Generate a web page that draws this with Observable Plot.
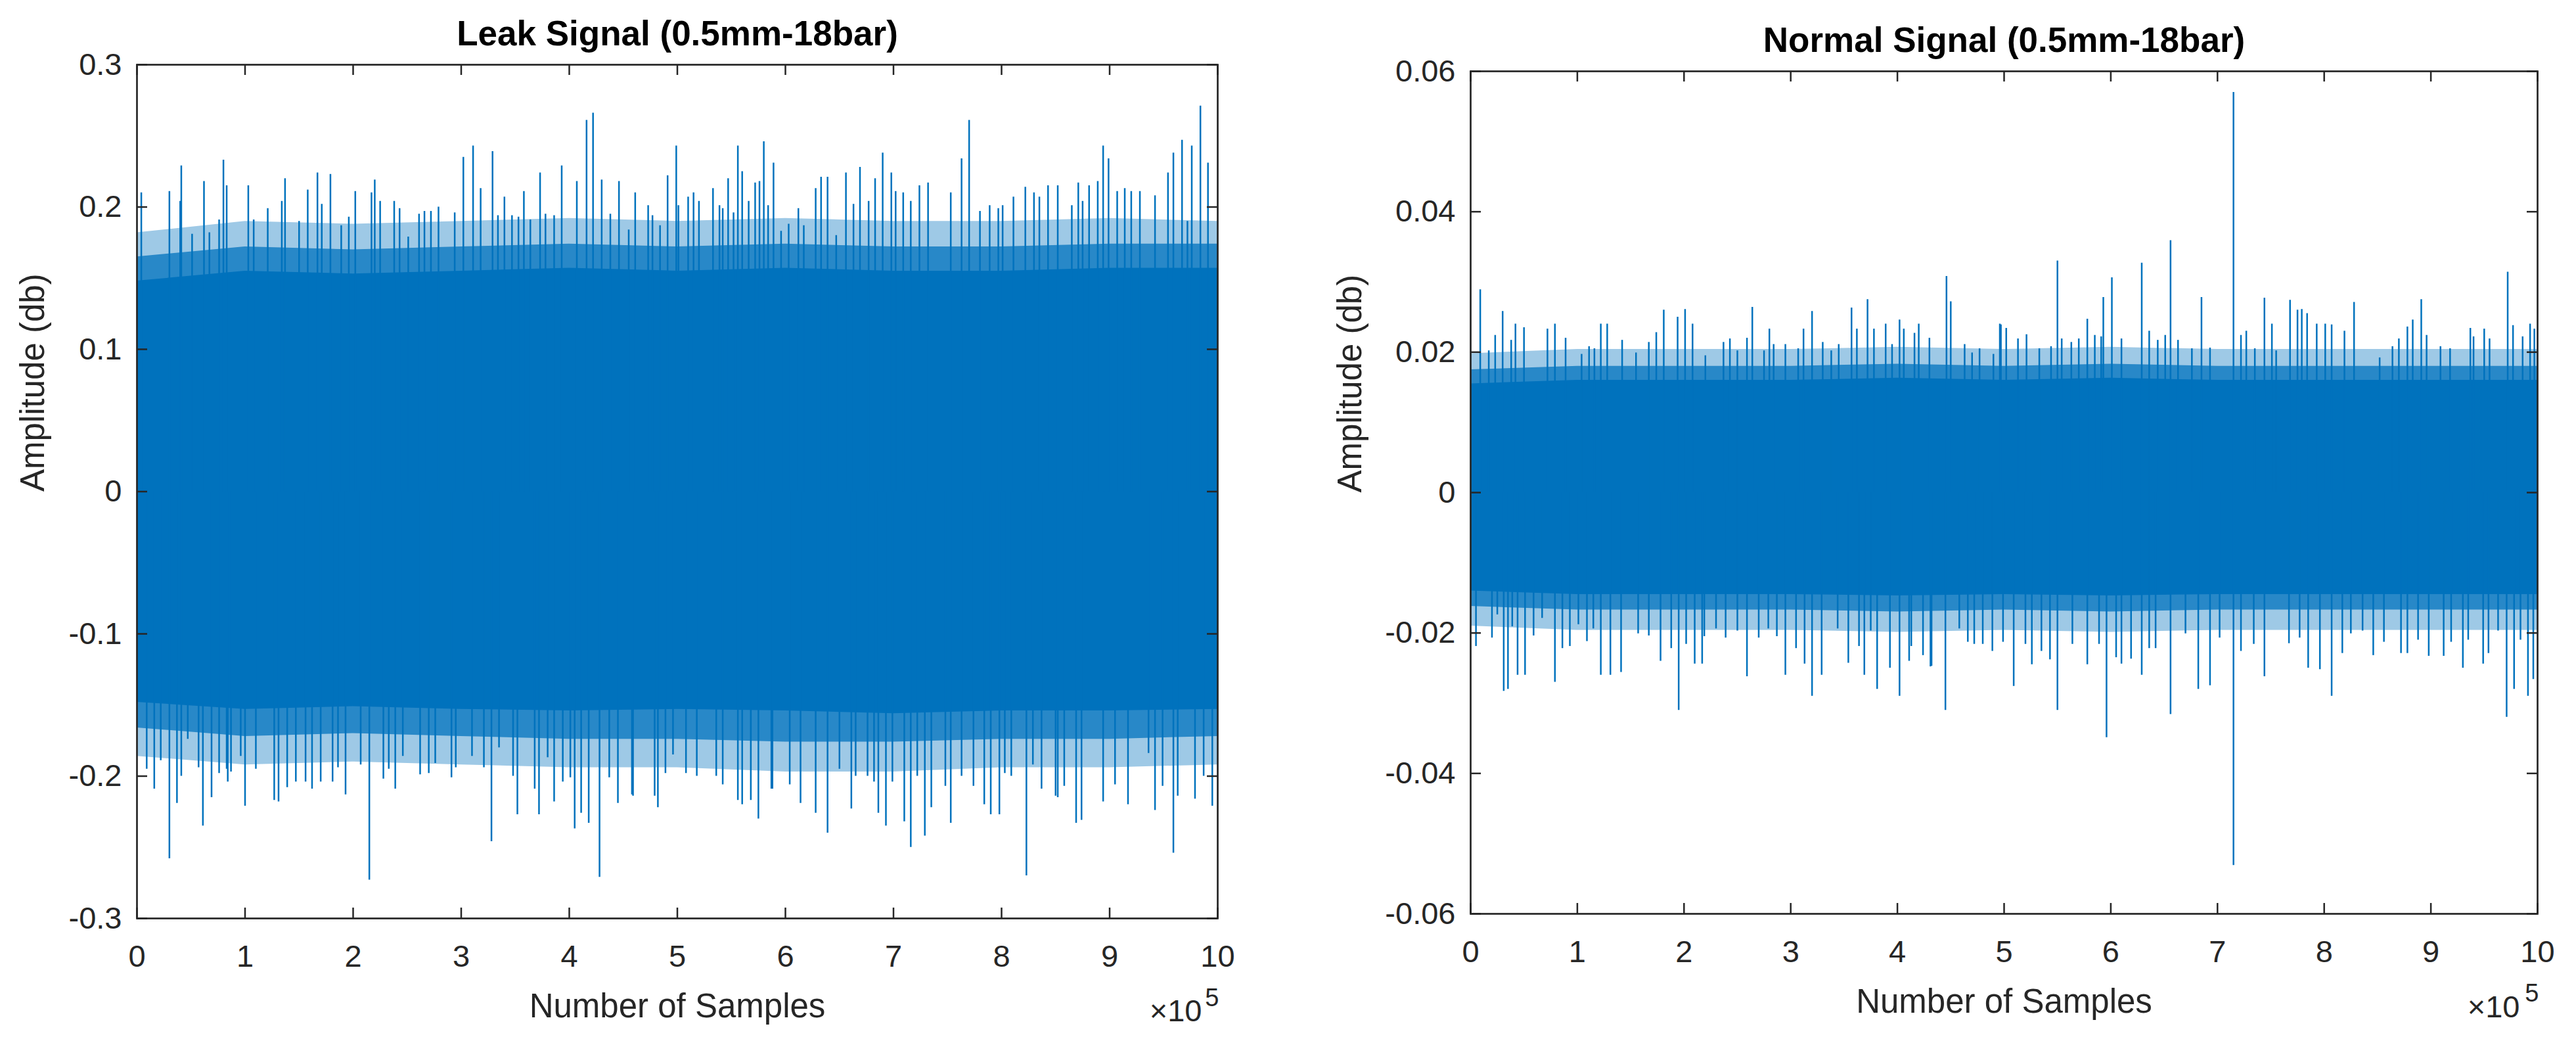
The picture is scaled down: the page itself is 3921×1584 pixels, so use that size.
<!DOCTYPE html>
<html>
<head>
<meta charset="utf-8">
<script src="https://cdn.jsdelivr.net/npm/d3@7"></script>
<script src="https://cdn.jsdelivr.net/npm/@observablehq/plot@0.6"></script>
<style>
  html, body { margin: 0; padding: 0; background: #ffffff; }
  #wrap { position: relative; width: 3921px; height: 1584px; overflow: hidden; }
  #left, #right { position: absolute; top: 0; }
  #left { left: 0; }
  #right { left: 1960px; }
</style>
</head>
<body>
<div id="wrap"><div id="left"></div><div id="right"></div></div>
<script>
// ---------------- DATA (x in units of 10^5 samples) ----------------
const xTicks = [0, 1, 2, 3, 4, 5, 6, 7, 8, 9, 10];
const leakYTicks = [-0.3, -0.2, -0.1, 0, 0.1, 0.2, 0.3];
const normalYTicks = [-0.06, -0.04, -0.02, 0, 0.02, 0.04, 0.06];

const leakTitle = "Leak Signal (0.5mm-18bar)";
const normalTitle = "Normal Signal (0.5mm-18bar)";
const xLabel = "Number of Samples";
const yLabel = "Amplitude (db)";

// envelope of the dense signal, read at every 1e5 samples:
// solid core, densely filled inner fringe, sparse outer fringe
const binX = [0, 1, 2, 3, 4, 5, 6, 7, 8, 9, 10];
const leakCoreHi   = [0.148, 0.155, 0.153, 0.155, 0.157, 0.155, 0.157, 0.155, 0.155, 0.157, 0.157];
const leakInnerHi  = [0.165, 0.172, 0.170, 0.172, 0.174, 0.172, 0.174, 0.172, 0.172, 0.174, 0.174];
const leakOuterHi  = [0.182, 0.190, 0.188, 0.190, 0.192, 0.190, 0.192, 0.190, 0.190, 0.192, 0.190];
const leakCoreLo   = [-0.148, -0.153, -0.151, -0.153, -0.154, -0.153, -0.154, -0.156, -0.154, -0.154, -0.153];
const leakInnerLo  = [-0.166, -0.172, -0.170, -0.172, -0.174, -0.174, -0.176, -0.176, -0.174, -0.174, -0.172];
const leakOuterLo  = [-0.186, -0.192, -0.190, -0.192, -0.194, -0.194, -0.197, -0.197, -0.194, -0.194, -0.192];

const normalCoreHi  = [0.0155, 0.0160, 0.0160, 0.0160, 0.0163, 0.0160, 0.0163, 0.0160, 0.0160, 0.0160, 0.0160];
const normalInnerHi = [0.0175, 0.0180, 0.0180, 0.0180, 0.0183, 0.0180, 0.0183, 0.0180, 0.0180, 0.0180, 0.0180];
const normalOuterHi = [0.0198, 0.0204, 0.0204, 0.0204, 0.0207, 0.0204, 0.0207, 0.0204, 0.0204, 0.0204, 0.0204];
const normalCoreLo  = [-0.0140, -0.0145, -0.0145, -0.0145, -0.0147, -0.0145, -0.0147, -0.0145, -0.0145, -0.0145, -0.0145];
const normalInnerLo = [-0.0162, -0.0167, -0.0167, -0.0167, -0.0170, -0.0167, -0.0170, -0.0167, -0.0167, -0.0167, -0.0167];
const normalOuterLo = [-0.0190, -0.0196, -0.0196, -0.0196, -0.0199, -0.0196, -0.0199, -0.0196, -0.0196, -0.0196, -0.0196];

// individual spikes [x (1e5 samples), amplitude]
const leakUpperPeaks = [
  [0.04,0.210],[0.30,0.211],[0.40,0.204],[0.41,0.229],[0.51,0.181],[0.62,0.218],[0.67,0.182],[0.76,0.191],[0.80,0.233],[0.83,0.215],
  [1.03,0.215],[1.08,0.191],[1.21,0.199],[1.34,0.204],[1.37,0.220],[1.50,0.190],[1.58,0.212],[1.67,0.224],[1.71,0.202],[1.79,0.223],
  [1.89,0.187],[1.96,0.193],[2.02,0.211],[2.17,0.210],[2.20,0.219],[2.25,0.204],[2.38,0.204],[2.43,0.199],[2.51,0.179],[2.61,0.195],
  [2.66,0.197],[2.72,0.197],[2.79,0.200],[2.94,0.196],[3.02,0.235],[3.11,0.243],[3.18,0.213],[3.29,0.239],[3.34,0.194],[3.40,0.207],
  [3.47,0.194],[3.53,0.193],[3.58,0.211],[3.64,0.191],[3.73,0.224],[3.78,0.195],[3.86,0.194],[3.93,0.229],[4.07,0.218],[4.16,0.261],
  [4.22,0.266],[4.30,0.219],[4.38,0.195],[4.46,0.218],[4.55,0.184],[4.61,0.210],[4.73,0.201],[4.77,0.194],[4.84,0.187],[4.91,0.222],
  [4.99,0.243],[5.01,0.201],[5.10,0.207],[5.15,0.210],[5.20,0.204],[5.33,0.213],[5.39,0.201],[5.42,0.199],[5.47,0.220],[5.52,0.196],
  [5.56,0.243],[5.60,0.225],[5.66,0.204],[5.72,0.217],[5.76,0.218],[5.80,0.246],[5.84,0.201],[5.89,0.231],[5.96,0.183],[6.03,0.188],
  [6.12,0.199],[6.17,0.187],[6.28,0.213],[6.33,0.221],[6.39,0.221],[6.47,0.180],[6.56,0.224],[6.63,0.202],[6.69,0.228],[6.77,0.204],
  [6.83,0.220],[6.90,0.238],[6.98,0.224],[7.02,0.211],[7.09,0.210],[7.16,0.204],[7.24,0.215],[7.32,0.217],[7.53,0.210],[7.63,0.234],
  [7.70,0.261],[7.80,0.197],[7.89,0.201],[7.97,0.199],[8.01,0.201],[8.11,0.207],[8.22,0.214],[8.30,0.210],[8.35,0.207],[8.43,0.215],
  [8.52,0.215],[8.65,0.201],[8.71,0.217],[8.75,0.204],[8.81,0.215],[8.89,0.218],[8.94,0.243],[8.99,0.234],[9.07,0.211],[9.14,0.213],
  [9.20,0.211],[9.28,0.211],[9.42,0.208],[9.54,0.224],[9.59,0.238],[9.67,0.247],[9.72,0.190],[9.76,0.243],[9.84,0.271],[9.91,0.231]
];
const leakLowerPeaks = [
  [0.09,-0.195],[0.16,-0.209],[0.22,-0.189],[0.30,-0.258],[0.37,-0.219],[0.41,-0.200],[0.47,-0.174],[0.57,-0.194],[0.61,-0.235],[0.69,-0.215],
  [0.76,-0.198],[0.83,-0.195],[0.84,-0.204],[0.87,-0.197],[0.96,-0.186],[1.00,-0.221],[1.10,-0.195],[1.27,-0.217],[1.31,-0.218],[1.39,-0.208],
  [1.47,-0.204],[1.56,-0.204],[1.62,-0.209],[1.70,-0.204],[1.81,-0.204],[1.86,-0.194],[1.93,-0.213],[2.07,-0.192],[2.15,-0.273],[2.28,-0.202],
  [2.33,-0.195],[2.39,-0.209],[2.46,-0.186],[2.62,-0.199],[2.70,-0.198],[2.76,-0.191],[2.91,-0.201],[2.95,-0.194],[3.10,-0.186],[3.21,-0.194],
  [3.28,-0.246],[3.35,-0.180],[3.48,-0.200],[3.52,-0.227],[3.68,-0.209],[3.72,-0.227],[3.80,-0.187],[3.86,-0.218],[3.94,-0.204],[4.01,-0.201],
  [4.05,-0.237],[4.11,-0.226],[4.18,-0.233],[4.28,-0.271],[4.37,-0.201],[4.45,-0.219],[4.58,-0.213],[4.59,-0.214],[4.79,-0.214],[4.82,-0.222],
  [4.89,-0.198],[4.96,-0.185],[5.08,-0.198],[5.18,-0.200],[5.36,-0.200],[5.42,-0.206],[5.56,-0.217],[5.60,-0.220],[5.68,-0.217],[5.75,-0.230],
  [5.87,-0.209],[5.88,-0.209],[6.04,-0.206],[6.14,-0.219],[6.28,-0.226],[6.39,-0.240],[6.50,-0.195],[6.61,-0.223],[6.65,-0.200],[6.76,-0.200],
  [6.82,-0.204],[6.86,-0.226],[6.93,-0.235],[6.99,-0.204],[7.10,-0.232],[7.16,-0.250],[7.22,-0.200],[7.29,-0.242],[7.35,-0.222],[7.48,-0.207],
  [7.53,-0.233],[7.63,-0.200],[7.74,-0.207],[7.84,-0.220],[7.90,-0.227],[7.98,-0.227],[8.03,-0.198],[8.09,-0.200],[8.23,-0.270],[8.29,-0.192],
  [8.37,-0.209],[8.50,-0.214],[8.52,-0.215],[8.58,-0.207],[8.69,-0.233],[8.74,-0.231],[8.94,-0.218],[9.05,-0.206],[9.17,-0.220],[9.36,-0.184],
  [9.42,-0.224],[9.49,-0.207],[9.59,-0.254],[9.63,-0.214],[9.79,-0.216],[9.87,-0.200],[9.95,-0.221]
];
const normalUpperPeaks = [
  [0.09,0.0289],[0.17,0.0202],[0.23,0.0224],[0.30,0.0258],[0.38,0.0217],[0.42,0.0240],[0.50,0.0235],[0.72,0.0233],[0.79,0.0240],[0.89,0.0220],
  [1.04,0.0197],[1.11,0.0208],[1.16,0.0205],[1.22,0.0240],[1.28,0.0240],[1.42,0.0217],[1.55,0.0199],[1.67,0.0214],[1.74,0.0228],[1.81,0.0260],
  [1.94,0.0250],[2.01,0.0261],[2.08,0.0240],[2.20,0.0195],[2.37,0.0214],[2.43,0.0219],[2.50,0.0202],[2.59,0.0220],[2.64,0.0264],[2.75,0.0202],
  [2.80,0.0233],[2.84,0.0211],[2.95,0.0211],[3.07,0.0205],[3.12,0.0233],[3.20,0.0258],[3.30,0.0214],[3.38,0.0202],[3.45,0.0211],[3.57,0.0263],
  [3.62,0.0233],[3.72,0.0275],[3.78,0.0233],[3.89,0.0240],[3.95,0.0211],[4.02,0.0246],[4.06,0.0233],[4.16,0.0227],[4.20,0.0240],[4.30,0.0220],
  [4.46,0.0308],[4.50,0.0272],[4.63,0.0211],[4.70,0.0199],[4.77,0.0205],[4.90,0.0197],[4.96,0.0240],[4.97,0.0239],[5.02,0.0234],[5.13,0.0219],
  [5.21,0.0225],[5.33,0.0205],[5.44,0.0208],[5.50,0.0330],[5.54,0.0219],[5.63,0.0214],[5.70,0.0219],[5.78,0.0247],[5.85,0.0224],[5.91,0.0222],
  [5.93,0.0278],[6.01,0.0306],[6.10,0.0219],[6.29,0.0327],[6.36,0.0230],[6.44,0.0217],[6.51,0.0224],[6.56,0.0359],[6.63,0.0217],[6.76,0.0205],
  [6.85,0.0278],[6.93,0.0206],[7.15,0.0570],[7.22,0.0224],[7.27,0.0230],[7.35,0.0205],[7.44,0.0277],[7.51,0.0240],[7.55,0.0202],[7.68,0.0274],
  [7.75,0.0260],[7.79,0.0261],[7.84,0.0255],[7.93,0.0240],[8.01,0.0240],[8.07,0.0239],[8.19,0.0230],[8.28,0.0271],[8.52,0.0192],[8.64,0.0208],
  [8.70,0.0219],[8.78,0.0236],[8.83,0.0246],[8.91,0.0275],[8.96,0.0224],[9.09,0.0208],[9.18,0.0205],[9.37,0.0234],[9.40,0.0222],[9.50,0.0233],
  [9.55,0.0219],[9.72,0.0314],[9.77,0.0238],[9.86,0.0222],[9.93,0.0240],[9.97,0.0233]
];
const normalLowerPeaks = [
  [0.05,-0.0219],[0.20,-0.0207],[0.25,-0.0174],[0.31,-0.0283],[0.35,-0.0280],[0.39,-0.0191],[0.44,-0.0260],[0.51,-0.0260],[0.59,-0.0204],[0.67,-0.0179],
  [0.79,-0.0270],[0.86,-0.0222],[0.93,-0.0219],[1.01,-0.0188],[1.09,-0.0212],[1.15,-0.0194],[1.22,-0.0260],[1.31,-0.0260],[1.41,-0.0256],[1.57,-0.0201],
  [1.67,-0.0204],[1.78,-0.0240],[1.88,-0.0222],[1.95,-0.0310],[2.02,-0.0216],[2.10,-0.0244],[2.17,-0.0244],[2.19,-0.0205],[2.30,-0.0194],[2.39,-0.0207],
  [2.50,-0.0197],[2.59,-0.0262],[2.70,-0.0207],[2.79,-0.0194],[2.87,-0.0205],[2.95,-0.0260],[3.05,-0.0222],[3.13,-0.0244],[3.20,-0.0290],[3.29,-0.0260],
  [3.44,-0.0194],[3.54,-0.0243],[3.64,-0.0219],[3.69,-0.0260],[3.75,-0.0197],[3.81,-0.0280],[3.93,-0.0250],[4.02,-0.0290],[4.11,-0.0240],[4.13,-0.0219],
  [4.24,-0.0232],[4.31,-0.0248],[4.32,-0.0247],[4.45,-0.0310],[4.58,-0.0194],[4.66,-0.0213],[4.72,-0.0216],[4.80,-0.0216],[4.89,-0.0226],[4.99,-0.0213],
  [5.09,-0.0276],[5.20,-0.0216],[5.26,-0.0245],[5.35,-0.0226],[5.43,-0.0238],[5.50,-0.0310],[5.64,-0.0216],[5.78,-0.0245],[5.89,-0.0216],[5.96,-0.0349],
  [6.05,-0.0235],[6.10,-0.0244],[6.19,-0.0237],[6.29,-0.0260],[6.36,-0.0222],[6.42,-0.0222],[6.56,-0.0316],[6.70,-0.0201],[6.82,-0.0280],[6.93,-0.0275],
  [7.02,-0.0207],[7.15,-0.0531],[7.22,-0.0226],[7.34,-0.0216],[7.44,-0.0262],[7.67,-0.0215],[7.77,-0.0207],[7.85,-0.0250],[7.96,-0.0252],[8.07,-0.0290],
  [8.17,-0.0229],[8.25,-0.0201],[8.36,-0.0197],[8.46,-0.0232],[8.56,-0.0213],[8.72,-0.0229],[8.78,-0.0229],[8.88,-0.0210],[8.98,-0.0233],[9.12,-0.0233],
  [9.19,-0.0213],[9.30,-0.0250],[9.35,-0.0210],[9.49,-0.0244],[9.54,-0.0229],[9.63,-0.0197],[9.71,-0.0320],[9.78,-0.0280],[9.84,-0.0210],[9.91,-0.0290],
  [9.96,-0.0266]
];

// ---------------- DRAWING ----------------
const BLUE = "#0072BD";
const AXIS = "#262626";
const FONT = "'Liberation Sans', Arial, Helvetica, sans-serif";

function panel(cfg) {
  const {width, height, mL, mR, mT, mB, yDomain, yTicks, title,
         coreHi, coreLo, innerHi, innerLo, outerHi, outerLo, upper, lower,
         yLabelDx, expDx10, expDy10, expDy5} = cfg;
  const frameW = width - mL - mR;
  const frameH = height - mT - mB;
  const tickLen = 16;
  const bins = binX.map((x, i) => ({
    x, coreHi: coreHi[i], coreLo: coreLo[i],
    innerHi: innerHi[i], innerLo: innerLo[i],
    outerHi: outerHi[i], outerLo: outerLo[i]
  }));
  const spikes = upper.concat(lower).map(([x, y]) => ({x, y}));
  return Plot.plot({
    width, height,
    marginLeft: mL, marginRight: mR, marginTop: mT, marginBottom: mB,
    style: {fontFamily: FONT, background: "transparent", overflow: "visible"},
    x: {domain: [0, 10]},
    y: {domain: yDomain},
    marks: [
      Plot.area(bins, {x1: "x", y1: "outerLo", y2: "outerHi", fill: BLUE, fillOpacity: 0.38}),
      Plot.area(bins, {x1: "x", y1: "innerLo", y2: "innerHi", fill: BLUE, fillOpacity: 0.75}),
      Plot.area(bins, {x1: "x", y1: "coreLo", y2: "coreHi", fill: BLUE}),
      Plot.ruleX(spikes, {x: "x", y1: 0, y2: "y", stroke: BLUE, strokeWidth: 2.5}),
      Plot.frame({stroke: AXIS, strokeWidth: 2.7}),
      Plot.tickX(xTicks, {x: d => d, insetTop: frameH - tickLen, stroke: AXIS, strokeWidth: 2.5}),
      Plot.tickX(xTicks, {x: d => d, insetBottom: frameH - tickLen, stroke: AXIS, strokeWidth: 2.5}),
      Plot.tickY(yTicks, {y: d => d, insetRight: frameW - tickLen, stroke: AXIS, strokeWidth: 2.5}),
      Plot.tickY(yTicks, {y: d => d, insetLeft: frameW - tickLen, stroke: AXIS, strokeWidth: 2.5}),
      Plot.axisX({ticks: xTicks, tickSize: 0, tickPadding: 40, fontSize: 47, fill: AXIS, tickFormat: d => String(d), label: null}),
      Plot.axisY({ticks: yTicks, tickSize: 0, tickPadding: 23, fontSize: 47, fill: AXIS, tickFormat: d => String(d), label: null}),
      Plot.text([title], {text: d => d, frameAnchor: "top", dy: -30, lineAnchor: "bottom", fontWeight: "bold", fontSize: 53, fill: "#000"}),
      Plot.text([xLabel], {text: d => d, frameAnchor: "bottom", dy: 150, lineAnchor: "bottom", fontSize: 51, fill: AXIS}),
      Plot.text([yLabel], {text: d => d, frameAnchor: "left", dx: yLabelDx, rotate: -90, lineAnchor: "middle", fontSize: 51, fill: AXIS}),
      Plot.text(["\u00d710"], {text: d => d, frameAnchor: "bottom-right", textAnchor: "end", dx: expDx10, dy: expDy10, lineAnchor: "bottom", fontSize: 47, fill: AXIS}),
      Plot.text(["5"], {text: d => d, frameAnchor: "bottom-right", textAnchor: "end", dx: 2, dy: expDy5, lineAnchor: "bottom", fontSize: 38, fill: AXIS})
    ]
  });
}

document.getElementById("left").appendChild(panel({
  width: 1960, height: 1584, mL: 208, mR: 107, mT: 98, mB: 187,
  yDomain: [-0.3, 0.3], yTicks: leakYTicks, title: leakTitle,
  coreHi: leakCoreHi, coreLo: leakCoreLo, innerHi: leakInnerHi, innerLo: leakInnerLo,
  outerHi: leakOuterHi, outerLo: leakOuterLo,
  upper: leakUpperPeaks, lower: leakLowerPeaks,
  yLabelDx: -158, expDx10: -24, expDy10: 156, expDy5: 133
}));
document.getElementById("right").appendChild(panel({
  width: 1961, height: 1584, mL: 278, mR: 59, mT: 108, mB: 194,
  yDomain: [-0.06, 0.06], yTicks: normalYTicks, title: normalTitle,
  coreHi: normalCoreHi, coreLo: normalCoreLo, innerHi: normalInnerHi, innerLo: normalInnerLo,
  outerHi: normalOuterHi, outerLo: normalOuterLo,
  upper: normalUpperPeaks, lower: normalLowerPeaks,
  yLabelDx: -183, expDx10: -27, expDy10: 157, expDy5: 133
}));
</script>
</body>
</html>
